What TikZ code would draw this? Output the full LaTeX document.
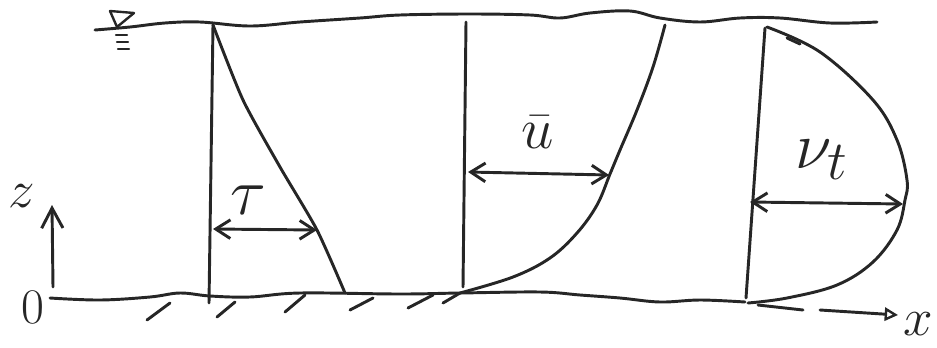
\documentclass[tikz,border=0pt]{standalone}
\usetikzlibrary{arrows.meta,calc}
\begin{document}
\begin{tikzpicture}[x=0.75pt,y=-0.75pt, line cap=round, line join=round,
  pen/.style={line width=2.2pt, black!85},
  thinpen/.style={line width=1.8pt, black!85},
  barb/.tip={Straight Barb[length=11pt,width=14pt,line width=2.2pt]},
  dimarrow/.style={pen, barb-barb},
  lbl/.style={inner sep=0pt, text=black!85, font=\Huge}]
\useasboundingbox (0,0) rectangle (937,347);

% free surface and bed
\draw[pen] plot[smooth, tension=0.6] coordinates {(95,30) (130,27) (165,23) (200,22) (250,26) (300,22) (360,18) (400,15) (470,14) (530,15) (560,18) (590,13) (630,11) (660,18) (700,22) (740,18) (780,18) (830,23) (877,22)};
\draw[pen] plot[smooth, tension=0.6] coordinates {(50,298) (100,300) (150,297) (180,293) (210,296) (250,297) (300,293) (400,294) (460,293) (540,292) (580,295) (620,298) (660,302) (700,300) (745,302)};
\coordinate (be1) at (758,305);
\coordinate (be2) at (803,310);
\draw[pen] (be1) -- (be2);

% water surface symbol
\coordinate (w1) at (110,11);
\coordinate (w2) at (134,13);
\coordinate (w3) at (117,27);
\draw[thinpen] (w1) -- (w2) -- (w3) -- cycle;
\foreach \i/\y in {0/35,1/42,2/49} {
  \draw[thinpen] (116+\i,\y) -- (127+\i,\y);
}

% hatching
\foreach \a/\b/\c/\d in {147/320/170/303, 217/317/235/302, 285/312/305/295, 350/310/373/298, 408/308/433/295, 443/303/460/293} {
  \draw[pen] (\a,\b) -- (\c,\d);
}

% axes
\node[lbl, scale=1.5] (zero) at (33,307) {0};
\coordinate (z0) at (53,287);
\coordinate (z1) at (52,205);
\draw[pen, -{Straight Barb[length=15pt,width=16pt,line width=2.2pt]}] (z0) -- (z1);
\node[lbl, scale=1.6] (zlbl) at (22,196) {$z$};
\coordinate (x0) at (820,310);
\coordinate (x1) at (898,315);
\draw[pen, -{Triangle[open,length=10pt,width=10pt,line width=1.8pt]}] (x0) -- (x1);
\node[lbl, scale=1.6] (xlbl) at (918,324) {$x$};

% profile 1: shear stress
\coordinate (s1) at (213,25);
\coordinate (b1) at (209,303);
\draw[pen] (s1) -- (b1);
\draw[pen] plot[smooth, tension=0.4] coordinates {(213,25) (243,100) (280,167) (317,230) (345,293)};
\coordinate (tauL) at (213,229);
\coordinate (tauR) at (317,230);
\draw[dimarrow] (tauL) -- (tauR);
\node[lbl, scale=2] (tau) at (248,200) {$\tau$};

% profile 2: mean velocity
\coordinate (s2) at (466,22);
\coordinate (b2) at (463,287);
\draw[pen] (s2) -- (b2);
\draw[pen] plot[smooth, tension=0.6] coordinates {(460,293) (513,277) (550,258) (577,233) (597,205) (610,174) (620,150) (637,110) (653,67) (665,25)};
\coordinate (uL) at (468,172);
\coordinate (uR) at (609,175);
\draw[dimarrow] (uL) -- (uR);
\node[lbl, scale=1.75] (ubar) at (538,132) {$\bar{u}$};

% profile 3: eddy viscosity
\coordinate (s3) at (765,28);
\coordinate (b3) at (746,298);
\draw[pen] (s3) -- (b3);
\draw[pen] plot[smooth, tension=0.6] coordinates {(767,27) (820,52) (873,100) (897,140) (907,180) (905,200) (897,230) (873,262) (837,285) (787,298) (748,303)};
\coordinate (m1) at (787,38);
\coordinate (m2) at (800,44);
\draw[pen] (m1) -- (m2);
\coordinate (nL) at (750,202);
\coordinate (nR) at (903,204);
\draw[dimarrow] (nL) -- (nR);
\node[lbl, scale=2] (nut) at (822,160) {$\nu_t$};
\end{tikzpicture}
\end{document}
